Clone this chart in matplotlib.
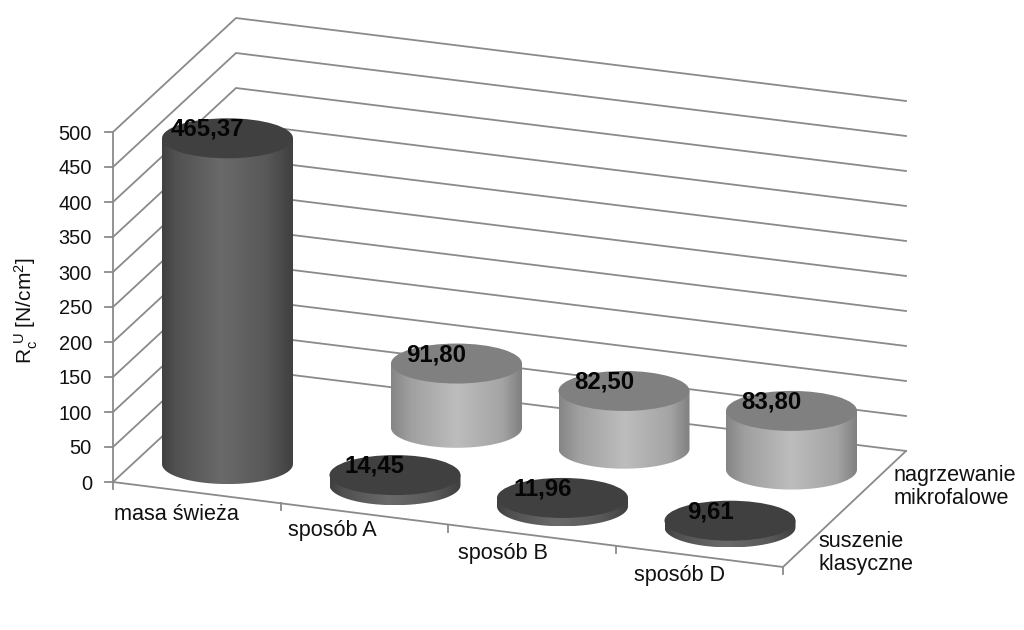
import numpy as np
import matplotlib
matplotlib.use("Agg")
import matplotlib.pyplot as plt
from matplotlib.colors import LinearSegmentedColormap
from matplotlib.patches import Ellipse, PathPatch
from matplotlib.path import Path

categories = ["masa świeża", "sposób A", "sposób B", "sposób D"]
series_names = ["suszenie\nklasyczne", "nagrzewanie\nmikrofalowe"]
suszenie = [465.37, 14.45, 11.96, 9.61]
nagrzewanie = [None, 91.80, 82.50, 83.80]
y_ticks = [0, 50, 100, 150, 200, 250, 300, 350, 400, 450, 500]

# floor corners of the 3d box in pixels, and pixels per unit of value
FL, FR = np.array([113.0, 482.0]), np.array([783.0, 567.0])
BL, BR = np.array([236.0, 368.0]), np.array([906.0, 451.0])
PX_PER_UNIT = 0.7
RX, RY = 65.5, 20.0
GRID = "#8a8a8a"
LW = 1.3
# label nudges, the chart did not place these evenly along the axis
cat_dx = [-20, -32, -29, -20]
cat_dy = [22, 17, 18, 19]
series_dx = [5, 18]
series_dy = [15, 7]

plt.rcParams["font.family"] = ["Liberation Sans", "DejaVu Sans"]
plt.rcParams["mathtext.default"] = "regular"


def project(u, v, value=0.0):
    # u along the categories, v along the series, both 0..1
    front = FL + (FR - FL) * u
    back = BL + (BR - BL) * u
    p = front + (back - front) * v
    return p[0], p[1] - value * PX_PER_UNIT


def cell_center(i, s, value=0.0):
    return project((i + 0.5) / len(categories), (s + 0.5) / len(series_names), value)


def cylinder(ax, i, s, value, side_cmap, top_color):
    bx, by = cell_center(i, s)
    tx, ty = cell_center(i, s, value)
    t = np.linspace(np.pi, 0, 60)
    lower_x = bx + RX * np.cos(t)
    lower_y = by + RY * np.sin(t)
    verts = [(tx - RX, ty)] + list(zip(lower_x, lower_y)) + [(tx + RX, ty), (tx - RX, ty)]
    codes = [Path.MOVETO] + [Path.LINETO] * (len(verts) - 2) + [Path.CLOSEPOLY]
    clip = PathPatch(Path(verts, codes), transform=ax.transData, fc="none", ec="none")
    ax.add_patch(clip)
    shade = np.linspace(0, 1, 256).reshape(1, -1)
    im = ax.imshow(shade, cmap=side_cmap, aspect="auto", interpolation="bilinear",
                   extent=(tx - RX, tx + RX, by + RY, ty), zorder=3)
    im.set_clip_path(clip)
    ax.add_patch(Ellipse((tx, ty), 2 * RX, 2 * RY, fc=top_color, ec="none", zorder=4))
    ax.text(tx - 20, ty - 9, f"{value:.2f}".replace(".", ","), fontsize=17.3,
            fontweight="bold", color="#050505", ha="center", va="center", zorder=6)


fig = plt.figure(figsize=(10.24, 6.3), dpi=100)
ax = fig.add_axes([0, 0, 1, 1])

dark_side = LinearSegmentedColormap.from_list(
    "dark", [(0, "#404040"), (0.1, "#505050"), (0.45, "#6a6a6a"), (0.8, "#585858"), (1, "#404040")])
light_side = LinearSegmentedColormap.from_list(
    "light", [(0, "#858585"), (0.15, "#a0a0a0"), (0.5, "#bdbdbd"), (0.85, "#a4a4a4"), (1, "#808080")])

# walls
for tick in y_ticks:
    xs, ys = zip(project(0, 0, tick), project(0, 1, tick), project(1, 1, tick))
    ax.plot(xs, ys, color=GRID, lw=LW, zorder=1)
    ax.plot([xs[0] - 8, xs[0]], [ys[0], ys[0]], color=GRID, lw=LW, zorder=1)
    ax.text(xs[0] - 21, ys[0] + 2, str(tick), fontsize=14.4, color="#111111", ha="right", va="center")

ax.plot(*zip(project(0, 0), project(0, 0, y_ticks[-1])), color=GRID, lw=LW, zorder=1)
ax.plot(*zip(project(0, 0), project(1, 0), project(1, 1)), color=GRID, lw=LW, zorder=1)

# category ticks and labels
for i in range(len(categories) + 1):
    x, y = project(i / len(categories), 0)
    ax.plot([x, x], [y, y + 7], color=GRID, lw=LW, zorder=1)
for i, name in enumerate(categories):
    x, y = project((i + 0.5) / len(categories), 0)
    ax.text(x + cat_dx[i], y + cat_dy[i], name, fontsize=15.6, color="#111111", ha="center", va="center")

# series labels beside the right edge of the floor
for s, name in enumerate(series_names):
    x, y = project(1, (s + 0.5) / len(series_names))
    ax.text(x + series_dx[s], y + series_dy[s], name, fontsize=15.6, color="#111111",
            ha="left", va="center", linespacing=1.15)

ax.text(26, 311, r"$R_c^{\ U}$ [N/cm$^2$]", fontsize=15, color="#111111",
        rotation=90, ha="center", va="center")

# back row first so the front row sits on top
for i, value in enumerate(nagrzewanie):
    if value is not None:
        cylinder(ax, i, 1, value, light_side, "#808080")
for i, value in enumerate(suszenie):
    cylinder(ax, i, 0, value, dark_side, "#404040")

ax.set_xlim(0, 1024)
ax.set_ylim(630, 0)
ax.axis("off")
fig.savefig("out.png", dpi=100, facecolor="white")
plt.close(fig)
